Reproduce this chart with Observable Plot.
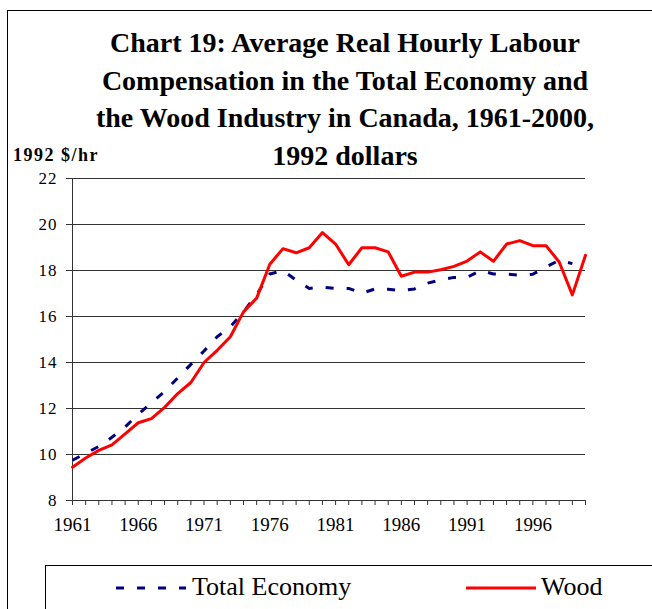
<!DOCTYPE html>
<html>
<head>
<meta charset="utf-8">
<script src="https://cdn.jsdelivr.net/npm/d3@7"></script>
<script src="https://cdn.jsdelivr.net/npm/@observablehq/plot@0.6"></script>
<style>
  html, body { margin: 0; padding: 0; background: #fff; }
  #wrap { position: relative; width: 652px; height: 609px; overflow: hidden; background: #fff; font-family: "Liberation Serif", "Times New Roman", serif; color: #000; }
  #frame { position: absolute; left: 7px; top: 10px; width: 720px; height: 720px; border: 1px solid #000; box-sizing: border-box; }
  #title { position: absolute; left: 0; top: 24px; width: 690px; text-align: center; font-weight: bold; font-size: 28px; line-height: 37.5px; white-space: nowrap; }
  #ylabel { position: absolute; left: 13px; top: 143px; font-weight: bold; font-size: 18px; letter-spacing: 1.5px; line-height: 24px; }
  #chart { position: absolute; left: 0; top: 160px; font-size: 19px; }
  #chart svg { font-size: 19px !important; font-family: "Liberation Serif", "Times New Roman", serif !important; }
  #chart svg text { font-size: 19px !important; }
  #chart [aria-label*="y-axis"] text { font-size: 17px !important; letter-spacing: 1px; }
  #legend { position: absolute; left: 45px; top: 565px; width: 720px; height: 80px; border: 1px solid #000; box-sizing: border-box; }
  .leg { position: absolute; top: 6px; font-size: 26px; line-height: 30px; }
</style>
</head>
<body>
<div id="wrap">
  <div id="frame"></div>
  <div id="title">Chart 19: Average Real Hourly Labour<br>Compensation in the Total Economy and<br>the Wood Industry in Canada, 1961-2000,<br>1992 dollars</div>
  <div id="ylabel">1992 $/hr</div>
  <div id="chart"></div>
  <div id="legend">
    <svg style="position:absolute;left:68px;top:18px" width="72" height="8"><line x1="2" y1="4" x2="72" y2="4" stroke="#000080" stroke-width="3" stroke-dasharray="8,13"/></svg>
    <span class="leg" style="left:146px">Total Economy</span>
    <svg style="position:absolute;left:420px;top:18px" width="72" height="8"><line x1="0" y1="4" x2="70" y2="4" stroke="#ff0000" stroke-width="3"/></svg>
    <span class="leg" style="left:495px">Wood</span>
  </div>
</div>
<script>
const years = [1961,1962,1963,1964,1965,1966,1967,1968,1969,1970,
               1971,1972,1973,1974,1975,1976,1977,1978,1979,1980,
               1981,1982,1983,1984,1985,1986,1987,1988,1989,1990,
               1991,1992,1993,1994,1995,1996,1997,1998,1999,2000];
const labelYears = [1961,1966,1971,1976,1981,1986,1991,1996];
const yTicks = [8,10,12,14,16,18,20,22];

// Total Economy (1961-1999)
const totalEconomy = [9.75,10.05,10.35,10.75,11.2,11.75,12.25,12.74,13.33,13.92,
                      14.5,15.12,15.55,16.2,16.95,17.85,18.0,17.58,17.22,17.28,
                      17.22,17.22,17.01,17.2,17.18,17.12,17.2,17.45,17.59,17.7,
                      17.7,18.0,17.85,17.84,17.8,17.84,18.15,18.45,18.3];
// Wood Industry (1961-2000)
const wood = [9.45,9.85,10.18,10.42,10.9,11.38,11.56,12.05,12.65,13.13,
              14.0,14.53,15.12,16.2,16.8,18.27,18.95,18.77,18.99,19.65,
              19.15,18.25,18.99,18.99,18.81,17.75,17.93,17.93,18.03,18.18,
              18.41,18.81,18.4,19.15,19.3,19.08,19.08,18.37,16.94,18.66];

const totalRows = totalEconomy.map((v, i) => ({year: years[i], value: v}));
const woodRows = wood.map((v, i) => ({year: years[i], value: v}));

const chart = Plot.plot({
  width: 652,
  height: 380,
  marginLeft: 72,
  marginRight: 67,
  marginTop: 18,
  marginBottom: 40,
  x: {domain: [1961, 2000]},
  y: {domain: [8, 22]},
  style: {fontFamily: '"Liberation Serif", "Times New Roman", serif', fontSize: "19px", color: "#000", background: "transparent", overflow: "visible"},
  marks: [
    Plot.gridY(yTicks.filter(d => d > 8), {stroke: "#333", strokeOpacity: 1, strokeWidth: 1}),
    Plot.ruleX([1961], {y1: 8, y2: 22, stroke: "#333"}),
    Plot.ruleY([8], {stroke: "#333"}),
    Plot.axisY({ticks: yTicks, tickSize: 6, tickPadding: 9, label: null, stroke: "#333"}),
    Plot.axisX({ticks: years, tickSize: 5, tickPadding: 12, label: null, stroke: "#333",
                tickFormat: d => labelYears.includes(d) ? String(d) : ""}),
    Plot.line(totalRows, {x: "year", y: "value", stroke: "#000080", strokeWidth: 3, strokeDasharray: "8,13", strokeLinecap: "butt"}),
    Plot.line(woodRows, {x: "year", y: "value", stroke: "#ff0000", strokeWidth: 3})
  ]
});
document.getElementById("chart").appendChild(chart);
</script>
</body>
</html>
